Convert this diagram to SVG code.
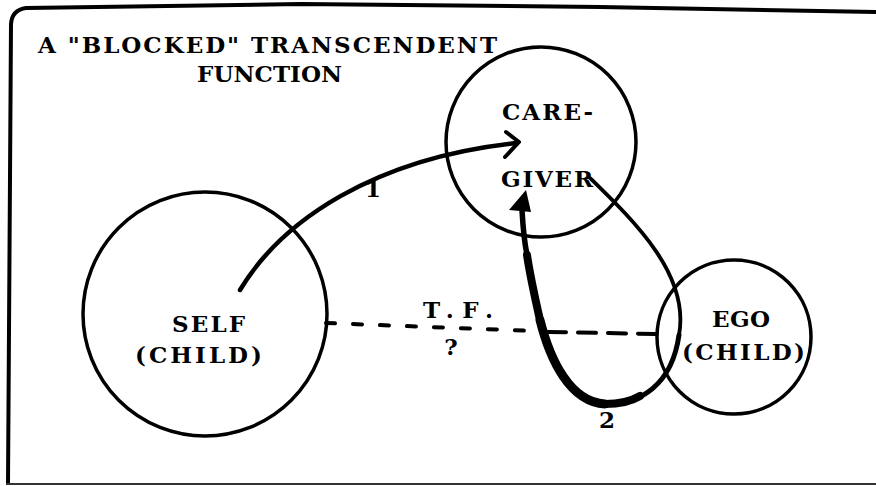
<svg xmlns="http://www.w3.org/2000/svg" width="876" height="486" viewBox="0 0 876 486">
<style>
.t{font-family:"DejaVu Serif","Liberation Serif",serif;font-weight:bold;font-size:23px;fill:#000}
.c{fill:none;stroke:#000;stroke-width:3.5}
.a{fill:none;stroke:#000;stroke-linecap:round}
</style>
<rect width="876" height="486" fill="#fff"/>
<g id="frame" fill="none" stroke="#000">
<path d="M8,484 L11,24 Q12,10 26,8 L300,4 L600,7 L876,12" stroke-width="4"/>
<path d="M6,484 L876,484" stroke-width="2" stroke="#333"/>
</g>
<g id="title">
<text class="t" x="38" y="53" textLength="459" lengthAdjust="spacing" font-size="22">A "BLOCKED" TRANSCENDENT</text>
<text class="t" x="197" y="82" textLength="145" lengthAdjust="spacing" font-size="22">FUNCTION</text>
</g>
<g id="self">
<circle class="c" cx="205" cy="314" r="122"/>
<text class="t" x="172" y="332" textLength="73" lengthAdjust="spacing">SELF</text>
<text class="t" x="135" y="363" textLength="127" lengthAdjust="spacing">(CHILD)</text>
</g>
<g id="caregiver">
<circle class="c" cx="541" cy="142" r="95"/>
<text class="t" x="502" y="120" textLength="91" lengthAdjust="spacing">CARE-</text>
<text class="t" x="501" y="187" textLength="92" lengthAdjust="spacing">GIVER</text>
</g>
<g id="ego">
<circle class="c" cx="734" cy="337" r="77"/>
<text class="t" x="712" y="327" textLength="58" lengthAdjust="spacing">EGO</text>
<text class="t" x="682" y="360" textLength="123" lengthAdjust="spacing">(CHILD)</text>
</g>
<g id="connectors">
<path class="a" d="M240,290 C282,220 375,158 516,143" stroke-width="4.5"/>
<path class="a" d="M506,132 L519,142 L505,157" stroke-width="4" stroke-linejoin="round"/>
<text class="t" x="373" y="197" text-anchor="middle" font-weight="normal">1</text>
<path class="a" d="M590,178 C635,222 690,275 679,335" stroke-width="3.8"/>
<path class="a" d="M679,335 C672,385 640,405 605,404" stroke-width="5"/>
<path class="a" d="M640,396 C630,402 618,404 605,404" stroke-width="8"/>
<path class="a" d="M605,404 C570,402 550,360 540,320" stroke-width="9"/>
<path class="a" d="M540,320 C535,298 530,275 527,255" stroke-width="8"/>
<path class="a" d="M527,255 C524,240 523,228 522,210" stroke-width="5.5"/>
<polygon points="526,190 509,210 531,212" fill="#000"/>
<text class="t" x="607" y="428" text-anchor="middle">2</text>
<path class="a" d="M326,323 L535,331" stroke-width="4" stroke-dasharray="9 18"/>
<path class="a" d="M548,332 L658,334" stroke-width="4" stroke-dasharray="18 12"/>
<text class="t" x="423" y="318" textLength="70" lengthAdjust="spacing">T.F.</text>
<text class="t" x="451" y="355" text-anchor="middle">?</text>
</g>
</svg>
